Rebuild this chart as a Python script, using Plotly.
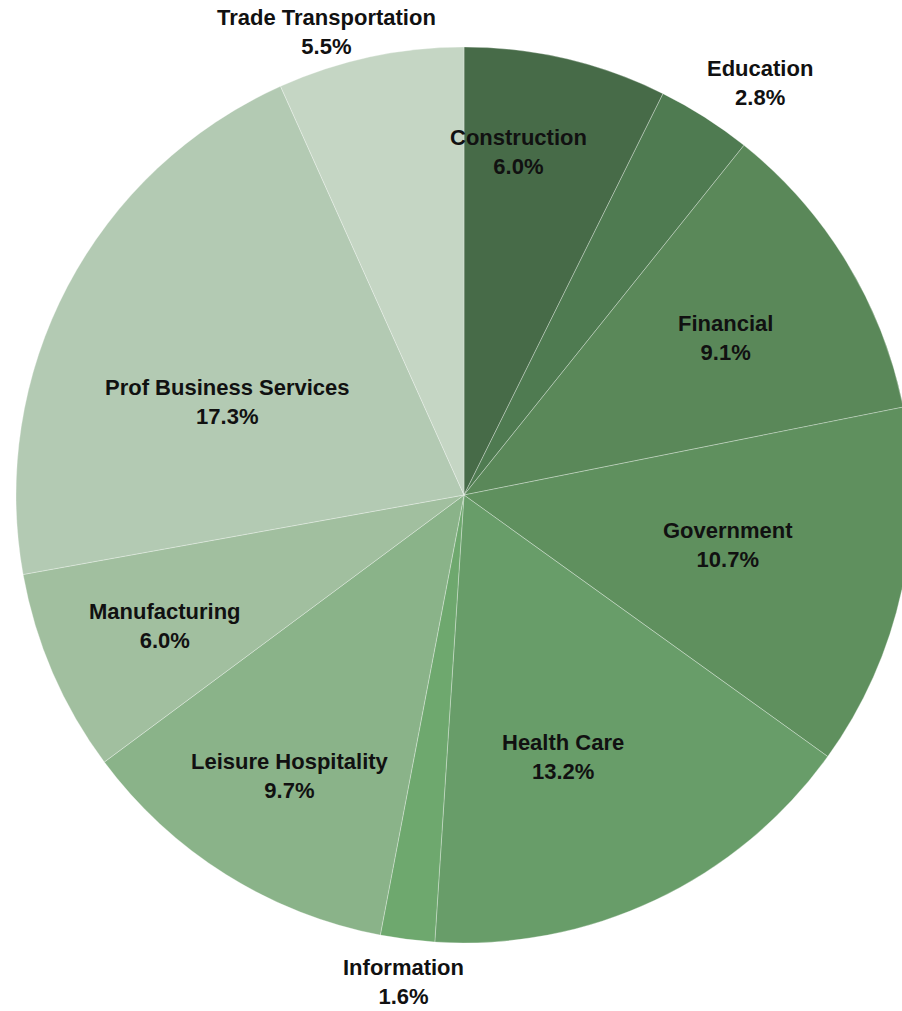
import math
import plotly.graph_objects as go

# Employment share by industry
sectors = ["Construction", "Education", "Financial", "Government", "Health Care",
           "Information", "Leisure Hospitality", "Manufacturing",
           "Prof Business Services", "Trade Transportation"]
shares = [6.0, 2.8, 9.1, 10.7, 13.2, 1.6, 9.7, 6.0, 17.3, 5.5]

colors = ["#476b48", "#4f7b51", "#5a8859", "#5f905e", "#689d69",
          "#6ea86e", "#8ab389", "#a1bf9f", "#b3cab3", "#c5d6c4"]

# label placement: radius as a fraction of the pie radius, and an angular nudge (deg)
label_radius = [0.775, 1.132, 0.680, 0.600, 0.625, 1.095, 0.738, 0.729, 0.568, 1.078]
label_nudge = [-4.2, 3.2, 0.3, -1.5, 4.6, -0.2, -0.3, -0.3, -6.4, -4.4]

W, H = 920, 1011
cx, cy, R = 464, 495, 448  # pie centre and radius in pixels (from top-left)

fig = go.Figure(go.Pie(
    labels=sectors,
    values=shares,
    sort=False,
    direction="clockwise",
    rotation=0,
    textinfo="none",
    hoverinfo="label+text",
    text=[f"{v:.1f}%" for v in shares],
    marker=dict(colors=colors, line=dict(color="rgba(255,255,255,0.3)", width=1)),
    domain=dict(x=[(cx - R) / W, (cx + R) / W],
                y=[1 - (cy + R) / H, 1 - (cy - R) / H]),
    showlegend=False,
))

total = sum(shares)
cum = 0.0
annotations = []
for name, v, rf, nudge in zip(sectors, shares, label_radius, label_nudge):
    mid = (cum + v / 2) / total * 360 + nudge
    cum += v
    px = cx + rf * R * math.sin(math.radians(mid))
    py = cy - rf * R * math.cos(math.radians(mid))
    annotations.append(dict(
        x=px / W, y=1 - py / H, xref="paper", yref="paper",
        xanchor="center", yanchor="middle", showarrow=False,
        text=f"{name}<br>{v:.1f}%",
        font=dict(family="Liberation Sans Narrow, Arial Narrow, Liberation Sans, Arial",
                  size=22, color="#111111", weight="bold"),
    ))

fig.update_layout(
    width=W, height=H, autosize=False,
    margin=dict(l=0, r=0, t=0, b=0),
    paper_bgcolor="white", plot_bgcolor="white",
    annotations=annotations,
)

fig.write_html("out.html", post_script="document.body.style.overflow='hidden';")
